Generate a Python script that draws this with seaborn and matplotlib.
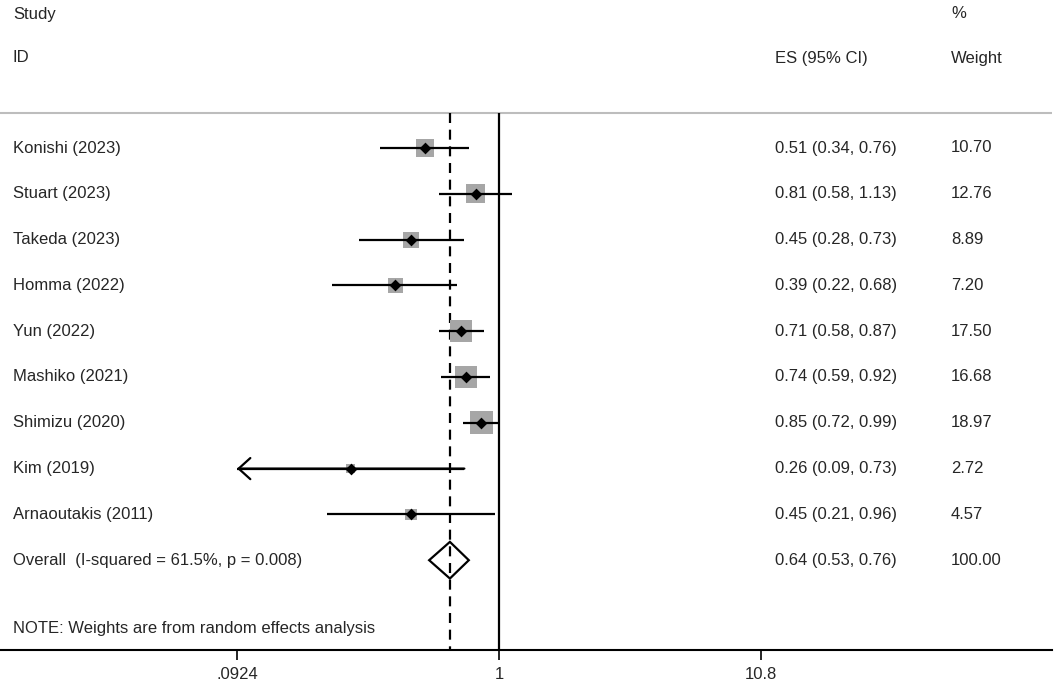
import numpy as np
import pandas as pd
import seaborn as sns
import matplotlib
matplotlib.use("Agg")
import matplotlib.pyplot as plt

# Study data
studies = ["Konishi (2023)", "Stuart (2023)", "Takeda (2023)", "Homma (2022)",
           "Yun (2022)", "Mashiko (2021)", "Shimizu (2020)", "Kim (2019)",
           "Arnaoutakis (2011)"]
es = [0.51, 0.81, 0.45, 0.39, 0.71, 0.74, 0.85, 0.26, 0.45]
ci_low = [0.34, 0.58, 0.28, 0.22, 0.58, 0.59, 0.72, 0.09, 0.21]
ci_high = [0.76, 1.13, 0.73, 0.68, 0.87, 0.92, 0.99, 0.73, 0.96]
weights = [10.70, 12.76, 8.89, 7.20, 17.50, 16.68, 18.97, 2.72, 4.57]

overall_label = "Overall  (I-squared = 61.5%, p = 0.008)"
overall_es, overall_low, overall_high = 0.64, 0.53, 0.76
overall_weight = 100.00

x_ticks = [0.0924, 1, 10.8]
x_tick_labels = [".0924", "1", "10.8"]

df = pd.DataFrame({"study": studies, "es": es, "lo": ci_low, "hi": ci_high,
                   "weight": weights})
df["row"] = np.arange(len(df))
overall_row = len(df)

sns.set_theme(style="white")
plt.rcParams["font.family"] = ["Liberation Sans", "DejaVu Sans"]

fig = plt.figure(figsize=(10.56, 6.90), dpi=100)
ax = fig.add_axes([0, 40 / 690, 1052 / 1056, 650 / 690])

ax.set_xscale("log")
# axis limits so that .0924 and 10.8 sit symmetric around 1
px_per_ln = 262 / np.log(1 / 0.0924)
ax.set_xlim(np.exp(-499 / px_per_ln), np.exp(553 / px_per_ln))
row_px = 45.8
ax.set_ylim((650 - 148) / row_px, -148 / row_px)

sep_y = (113 - 148) / row_px
y_bottom = ax.get_ylim()[0]
lw = 1.6

# separator and reference lines
ax.axhline(sep_y, color="#bdbdbd", lw=1.5, zorder=1)
ax.vlines(1, sep_y, y_bottom, color="black", lw=lw, zorder=1)
ax.vlines(overall_es, sep_y, y_bottom, color="black", lw=lw,
          linestyles=(0, (4.5, 3)), zorder=1)

# weight squares
sns.scatterplot(data=df, x="es", y="row", size="weight", marker="s",
                sizes=(14.67 * min(weights), 14.67 * max(weights)),
                color="#a6a6a6", linewidth=0, legend=False, ax=ax, zorder=2)

# confidence intervals (clipped at axis minimum with arrow)
x_min = x_ticks[0]
for _, r in df.iterrows():
    left = max(r["lo"], x_min)
    ax.hlines(r["row"], left, r["hi"], color="black", lw=lw, zorder=3)
    if r["lo"] < x_min:
        ax.annotate("", xy=(x_min, r["row"]), xytext=(r["hi"], r["row"]),
                    arrowprops=dict(arrowstyle="->,head_length=0.42,head_width=0.38",
                                    color="black", lw=lw, shrinkA=0, shrinkB=0,
                                    mutation_scale=20), zorder=3)

# point estimates
sns.scatterplot(data=df, x="es", y="row", marker="D", s=36, color="black",
                linewidth=0, legend=False, ax=ax, zorder=4)

# overall diamond
h = 0.40
ax.fill([overall_low, overall_es, overall_high, overall_es],
        [overall_row, overall_row - h, overall_row, overall_row + h],
        facecolor="none", edgecolor="black", lw=lw, zorder=4)

# text columns
tr = ax.get_yaxis_transform()
fs = 12
col_id, col_es, col_w = 13 / 1052, 775 / 1052, 951 / 1052
ax.text(col_id, (14 - 148) / row_px, "Study", transform=tr, fontsize=fs, va="center")
ax.text(col_w, (14 - 148) / row_px, "%", transform=tr, fontsize=fs, va="center")
ax.text(col_id, (58 - 148) / row_px, "ID", transform=tr, fontsize=fs, va="center")
ax.text(col_es, (58 - 148) / row_px, "ES (95% CI)", transform=tr, fontsize=fs, va="center")
ax.text(col_w, (58 - 148) / row_px, "Weight", transform=tr, fontsize=fs, va="center")

for _, r in df.iterrows():
    ax.text(col_id, r["row"], r["study"], transform=tr, fontsize=fs, va="center")
    ax.text(col_es, r["row"], f"{r['es']:.2f} ({r['lo']:.2f}, {r['hi']:.2f})",
            transform=tr, fontsize=fs, va="center")
    ax.text(col_w, r["row"], f"{r['weight']:.2f}", transform=tr, fontsize=fs, va="center")

ax.text(col_id, overall_row, overall_label, transform=tr, fontsize=fs, va="center")
ax.text(col_es, overall_row, f"{overall_es:.2f} ({overall_low:.2f}, {overall_high:.2f})",
        transform=tr, fontsize=fs, va="center")
ax.text(col_w, overall_row, f"{overall_weight:.2f}", transform=tr, fontsize=fs, va="center")
ax.text(col_id, (628 - 148) / row_px, "NOTE: Weights are from random effects analysis",
        transform=tr, fontsize=fs, va="center")

# axis styling
for side in ["top", "left", "right"]:
    ax.spines[side].set_visible(False)
ax.spines["bottom"].set_color("black")
ax.spines["bottom"].set_linewidth(1.5)
ax.set_yticks([])
ax.set_xticks(x_ticks)
ax.set_xticklabels(x_tick_labels)
ax.xaxis.set_minor_locator(matplotlib.ticker.NullLocator())
ax.tick_params(axis="x", direction="out", length=7.5, width=1.2, color="black",
               labelsize=fs, pad=4.5, bottom=True)
ax.set_xlabel("")
ax.set_ylabel("")

fig.savefig("out.png", dpi=100)
